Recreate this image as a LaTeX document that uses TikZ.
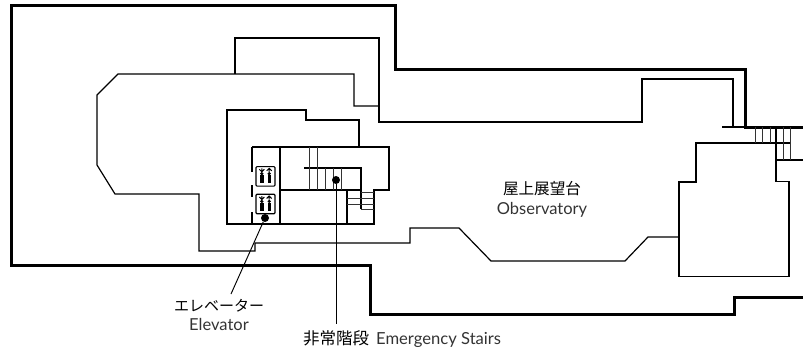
\documentclass[tikz,border=0pt]{standalone}
\usepackage{fontspec}
\setmainfont{Lato}
\newfontfamily\cjk{Noto Sans CJK JP}
\tikzset{
  x=1pt,y=-1pt,
  thickwall/.style={line width=3pt,line join=miter,black},
  wall/.style={line width=1.05pt,line join=miter,black},
  softwall/.style={line width=1.2pt,line join=miter,black},
  fine/.style={line width=0.8pt,black!80},
  leader/.style={line width=0.95pt,black},
  dotmark/.style={circle,fill=black,inner sep=0pt,minimum size=8pt},
  jp/.style={inner sep=0pt,font=\cjk\fontsize{15.6}{16}\selectfont,black},
  en/.style={inner sep=0pt,font=\fontsize{16.5}{16}\selectfont,black!80},
  elevbox/.style={draw=black,line width=1.1pt,rounded corners=1pt,minimum width=19pt,minimum height=19.5pt,inner sep=0pt}
}
\begin{document}
\begin{tikzpicture}
\useasboundingbox (0,0) rectangle (803,353);
% outer thick walls
\draw[thickwall] (803,127)--(745,127)--(745,70)--(395,70)--(395,6)--(11,6)--(11,265)--(370,265)--(370,314)--(734,314)--(734,297)--(803,297);
% terrace inner wall
\draw[wall] (733,127)--(733,79)--(642,79)--(642,122)--(379,122)--(379,38)--(235,38)--(235,74);
\draw[wall] (722,127)--(745,127);
\draw[softwall] (379,106)--(354,106)--(354,74)--(118,74)--(97,95)--(97,165)--(115,194)--(199,194)--(199,251)--(255,251)--(255,243)--(410,243)--(410,228)--(459,228)--(491,261)--(625,261)--(648,237)--(679,237);
% core
\draw[wall] (252,224)--(227,224)--(227,110)--(306,110)--(306,120)--(359,120)--(359,147);
\draw[wall] (252,147)--(389,147)--(389,190)--(374,190)--(374,224)--(252,224);
\draw[wall] (280,147)--(280,224);
\draw[wall] (280,190)--(361,190);
\draw[wall] (347,190)--(347,224);
\draw[wall] (304,168)--(361,168)--(361,209);
\draw[wall] (252,147)--(252,172) (252,185)--(252,197) (252,212)--(252,224);
\foreach \xx in {309,317}{\draw[fine] (\xx,147)--(\xx,190);}
\foreach \xx in {325,333,341}{\draw[fine] (\xx,168)--(\xx,190);}
\foreach \yy in {198,204}{\draw[fine] (347,\yy)--(374,\yy);}
\foreach \yy in {192.5,209}{\draw[fine] (361,\yy)--(374,\yy);}
% elevators
\node[elevbox] (elevA) at (265.5,176.3) {};
\node[elevbox] (elevB) at (265.5,204) {};
\foreach \n in {elevA,elevB}{
  \fill[black] ([shift={(-5.4,-1)}]\n.center) rectangle ++(3.4,8);
  \fill[black] ([shift={(2.0,-1)}]\n.center) rectangle ++(3.4,8);
  \fill[black] ([shift={(-3.7,-2.6)}]\n.center) circle (1.8pt);
  \fill[black] ([shift={(3.7,-2.6)}]\n.center) circle (1.8pt);
  \draw[black,line width=1pt] ([shift={(-3.7,-8)}]\n.center)--++(0,3.5) ([shift={(-6.2,-7)}]\n.center)--++(2.5,2.5)--++(2.5,-2.5);
  \draw[black,line width=1pt] ([shift={(3.7,-8)}]\n.center)--++(0,3.5) ([shift={(1.2,-5.5)}]\n.center)--++(2.5,-2.5)--++(2.5,2.5);
}
% east block
\draw[wall] (790,143)--(696,143)--(696,182)--(679,182)--(679,276.5)--(789,276.5)--(789,181.5)--(776,181.5)--(776,127);
\draw[wall] (776,160)--(803,160);
\foreach \xx in {755,762,770,783,790}{\draw[fine] (\xx,127)--(\xx,143);}
\foreach \xx in {783,790}{\draw[fine] (\xx,143)--(\xx,160);}
% labels
\node[jp] (obsJ) at (542,189) {屋上展望台};
\node[en] (obsE) at (542,209.5) {Observatory};
\node[jp,font=\cjk\fontsize{15}{16}\selectfont] (elvJ) at (219,306) {エレベーター};
\node[en] (elvE) at (219,324) {Elevator};
\node[jp,font=\cjk\fontsize{16.5}{16}\selectfont] (stJ) at (336,338.5) {非常階段};
\node[en,anchor=west,font=\fontsize{16.6}{16}\selectfont] (stE) at (376,339.5) {Emergency Stairs};
% markers and leaders
\node[dotmark] (dotE) at (265,218) {};
\node[dotmark] (dotS) at (336,180) {};
\coordinate (endE) at (231,294);
\coordinate (endS) at (336,324);
\draw[leader] (dotE)--(endE);
\draw[leader] (dotS)--(endS);
\end{tikzpicture}
\end{document}
